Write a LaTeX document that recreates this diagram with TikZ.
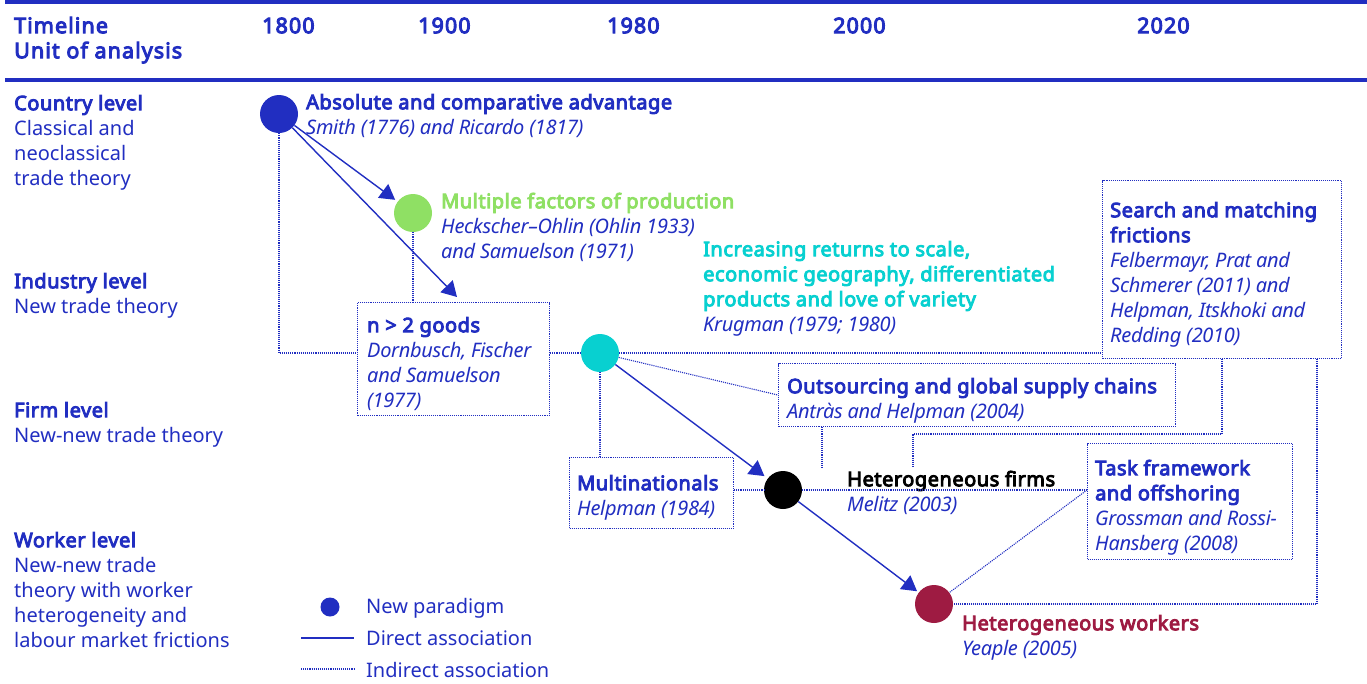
\documentclass[tikz,border=0pt]{standalone}
\usepackage{fontspec}
\setmainfont{Noto Sans}[BoldFont={Noto Sans}, BoldFeatures={FakeBold=4.5, LetterSpace=2.6},
  ItalicFeatures={LetterSpace=-1.5}]
\newfontfamily\hdrfont{Noto Sans}[FakeBold=4.5, LetterSpace=5]
\usetikzlibrary{arrows.meta,calc}
\definecolor{ublue}{RGB}{33,46,193}
\definecolor{ugreen}{RGB}{143,224,100}
\definecolor{ucyan}{RGB}{8,208,208}
\definecolor{umaroon}{RGB}{158,27,66}
\newcommand\fst{\rule{0pt}{19pt}}
\begin{document}
\begin{tikzpicture}[x=1pt,y=-1pt,
  txt/.style={anchor=north west, inner sep=0pt, align=left, text=ublue,
    font=\fontsize{20}{25}\selectfont},
  hdr/.style={txt, font=\fontsize{21.5}{25}\selectfont\hdrfont},
  para/.style={circle, minimum size=38pt, inner sep=0pt, draw=none},
  dbox/.style={draw=ublue, line width=1.1pt, dash pattern=on 1.1pt off 1pt, anchor=north west, inner sep=0pt},
  ind/.style={draw=ublue, line width=1.1pt, dash pattern=on 1.1pt off 1pt},
  dirline/.style={draw=ublue, line width=1.4pt},
  dir/.style={dirline, -{Triangle[length=15pt,width=17pt]}},
  rule/.style={draw=ublue, line width=4pt}]
\useasboundingbox (0,0) rectangle (1367,683);

% header rules
\coordinate (r1a) at (5,2);   \coordinate (r1b) at (1367,2);
\coordinate (r2a) at (5,80);  \coordinate (r2b) at (1367,80);
\draw[rule] (r1a) -- (r1b);
\draw[rule] (r2a) -- (r2b);

% header texts
\node[hdr] (tl) at (14,14) {\fst Timeline\\Unit of analysis};
\node[hdr] (y1800) at (262,14) {\fst 1800};
\node[hdr] (y1900) at (418,14) {\fst 1900};
\node[hdr] (y1980) at (607,14) {\fst 1980};
\node[hdr] (y2000) at (833,14) {\fst 2000};
\node[hdr] (y2020) at (1137,14) {\fst 2020};

% left column
\node[txt] (cl) at (14,91) {\fst\textbf{Country level}\\Classical and\\neoclassical\\trade theory};
\node[txt] (il) at (14,269) {\fst\textbf{Industry level}\\New trade theory};
\node[txt] (fl) at (14,398) {\fst\textbf{Firm level}\\New-new trade theory};
\node[txt] (wl) at (14,528) {\fst\textbf{Worker level}\\New-new trade\\theory with worker\\heterogeneity and\\labour market frictions};

% paradigm circles
\node[para, fill=ublue]   (c1) at (279,114) {};
\node[para, fill=ugreen]  (c2) at (413,213) {};
\node[para, fill=ucyan]   (c3) at (600,353) {};
\node[para, fill=black]   (c4) at (783,490) {};
\node[para, fill=umaroon] (c5) at (934,604) {};

% boxes
\node[dbox, minimum width=192pt, minimum height=113pt] (nbox) at (357,302) {};
\node[dbox, minimum width=239pt, minimum height=178pt] (sbox) at (1102,180) {};
\node[dbox, minimum width=397pt, minimum height=63pt]  (obox) at (778,363) {};
\node[dbox, minimum width=164pt, minimum height=71pt]  (mbox) at (569,457) {};
\node[dbox, minimum width=205pt, minimum height=116pt] (tbox) at (1087,443) {};

% texts
\node[txt] (t1) at (306,90) {\fst\textbf{Absolute and comparative advantage}\\\textit{Smith (1776) and Ricardo (1817)}};
\node[txt] (t2) at (441,189) {\fst\textbf{\color{ugreen}Multiple factors of production}\\\textit{Heckscher–Ohlin (Ohlin 1933)}\\\textit{and Samuelson (1971)}};
\node[txt] (t3) at (703,237) {\fst\textbf{\color{ucyan}Increasing returns to scale,}\\\textbf{\color{ucyan}economic geography, differentiated}\\\textbf{\color{ucyan}products and love of variety}\\\textit{Krugman (1979; 1980)}};
\node[txt] (tn) at (367,313) {\fst\textbf{n > 2 goods}\\\textit{Dornbusch, Fischer}\\\textit{and Samuelson}\\\textit{(1977)}};
\node[txt] (ts) at (1110,198) {\fst\textbf{Search and matching}\\\textbf{frictions}\\\textit{Felbermayr, Prat and}\\\textit{Schmerer (2011) and}\\\textit{Helpman, Itskhoki and}\\\textit{Redding (2010)}};
\node[txt] (to) at (787,374) {\fst\textbf{Outsourcing and global supply chains}\\\textit{Antràs and Helpman (2004)}};
\node[txt] (tm) at (577,471) {\fst\textbf{Multinationals}\\\textit{Helpman (1984)}};
\node[txt] (tf) at (847,467) {\fst\textbf{\color{black}Heterogeneous firms}\\\textit{Melitz (2003)}};
\node[txt] (tt) at (1095,456) {\fst\textbf{Task framework}\\\textbf{and offshoring}\\\textit{Grossman and Rossi-}\\\textit{Hansberg (2008)}};
\node[txt] (tw) at (962,611) {\fst\textbf{\color{umaroon}Heterogeneous workers}\\\textit{Yeaple (2005)}};

% direct associations
\coordinate (a2end) at (457,297);
\draw[dir, shorten >=3pt] (c1) -- (c2);
\draw[dir] (c1) -- (a2end);
\draw[dir, shorten >=4pt] (c3) -- (c4);
\draw[dir, shorten >=2pt] (c4) -- (c5);

% indirect associations
\coordinate (k1) at (nbox.west |- c3);
\draw[ind] (c1.south) |- (k1);
\draw[ind] (c2.south) -- (c2.south |- nbox.north);
\draw[ind] (nbox.east |- c3) -- (c3.west);
\draw[ind] (c3.east) -- (sbox.west |- c3);
\draw[ind] (c3) -- (obox.west);
\draw[ind] (c3.south) -- (c3.south |- mbox.north);
\draw[ind] (mbox.east |- c4) -- (c4.west);
\coordinate (twp) at (tbox.west |- c4);
\draw[ind] (c4.east) -- (twp);
\draw[ind] (twp) -- (c5);
\coordinate (od) at (822,468);
\draw[ind] (od |- obox.south) -- (od);
\coordinate (sd1) at (1222,434);
\coordinate (sd2) at (913,467);
\draw[ind] (sd1 |- sbox.south) -- (sd1) -| (sd2);
\coordinate (sd3) at (1317,604);
\draw[ind] (sd3 |- sbox.south) -- (sd3) -- (c5.east);

% legend
\node[para, minimum size=19pt, fill=ublue] (lc) at (330,607) {};
\coordinate (la1) at (301,638); \coordinate (la2) at (354,638);
\coordinate (lb1) at (301,669); \coordinate (lb2) at (355,669);
\draw[dirline] (la1) -- (la2);
\draw[ind] (lb1) -- (lb2);
\node[txt] (ln1) at (366,594) {\fst New paradigm};
\node[txt] (ln2) at (366,626) {\fst Direct association};
\node[txt] (ln3) at (366,658) {\fst Indirect association};
\end{tikzpicture}
\end{document}
